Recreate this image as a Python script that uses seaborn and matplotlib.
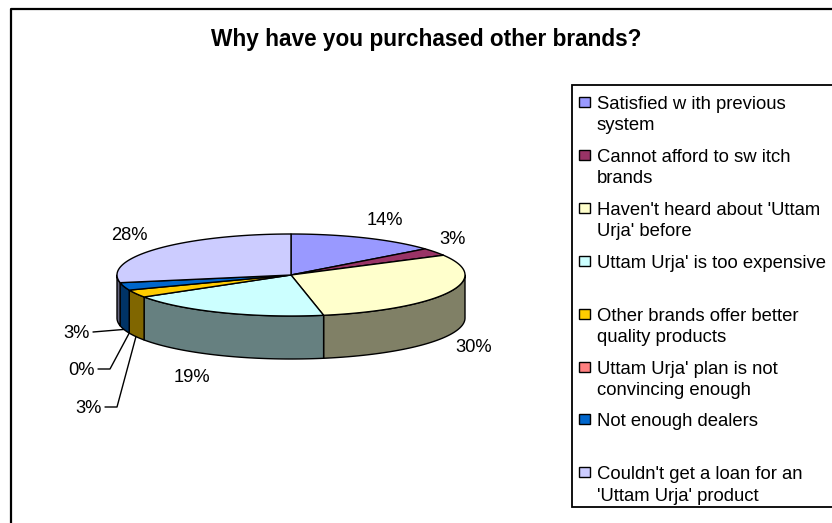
import numpy as np
import matplotlib
matplotlib.use("Agg")
import matplotlib.pyplot as plt
import seaborn as sns
from matplotlib.patches import Polygon, Rectangle
from matplotlib.colors import to_rgb

# ---------------- data ----------------
title = "Why have you purchased other brands?"
categories = [
    "Satisfied w ith previous\nsystem",
    "Cannot afford to sw itch\nbrands",
    "Haven't heard about 'Uttam\nUrja' before",
    "Uttam Urja' is too expensive",
    "Other brands offer better\nquality products",
    "Uttam Urja' plan is not\nconvincing enough",
    "Not enough dealers",
    "Couldn't get a loan for an\n'Uttam Urja' product",
]
values = [14, 3, 30, 19, 3, 0, 3, 28]
pct_labels = ["14%", "3%", "30%", "19%", "3%", "0%", "3%", "28%"]
colors = ["#9999FF", "#993366", "#FFFFCC", "#CCFFFF",
          "#FFCC00", "#FF8080", "#0066CC", "#CCCCFF"]

# ---------------- layout ----------------
W, H = 832, 523
CX, CY = 291, 275          # centre of top face (pixels)
RX, RY = 174, 41           # ellipse radii
DEPTH = 43                 # pie thickness
FONT = ["Liberation Sans", "DejaVu Sans"]

# label text centres (x) and baselines (y) for the outside labels
label_xy = {0: (385, 225), 1: (453, 244), 2: (474, 352), 3: (192, 382), 7: (129, 240)}
# leader-line labels: index -> (text right x, baseline y, elbow points)
leader = {
    6: (90, 338, [(93, 332)]),
    5: (95, 375, [(98, 369), (110, 369)]),
    4: (102, 413, [(105, 407), (117, 407)]),
}

sns.set_theme(style="white")
plt.rcParams["font.family"] = FONT

fig = plt.figure(figsize=(W / 100, H / 100), dpi=100)
ax = fig.add_axes([0, 0, 1, 1])
ax.set_xlim(0, W)
ax.set_ylim(H, 0)
ax.axis("off")

# chart frame (right and bottom edges lie outside the picture)
ax.plot([11, 11, W + 5], [H + 5, 9, 9], color="black", lw=1.6, solid_capstyle="butt")

ax.text(426, 46, title, ha="center", va="baseline", fontsize=16.3,
        fontweight="bold", color="black")

vals = np.asarray(values, dtype=float)
frac = vals / vals.sum()
ends = 90 - 360 * np.cumsum(frac)
starts = np.concatenate([[90], ends[:-1]])


def pt(t_deg, dy=0.0):
    t = np.radians(t_deg)
    return CX + RX * np.cos(t), CY - RY * np.sin(t) + dy


def darker(c, f=0.5):
    r, g, b = to_rgb(c)
    return (r * f, g * f, b * f)


# side walls (front half only: angles between -180 and 0)
for a1, a2, c in zip(starts, ends, colors):
    lo, hi = max(a2, -180), min(a1, 0)
    if hi - lo <= 0.01:
        continue
    ts = np.linspace(hi, lo, 60)
    top = [pt(t) for t in ts]
    bot = [pt(t, DEPTH) for t in ts[::-1]]
    ax.add_patch(Polygon(top + bot, closed=True, facecolor=darker(c),
                         edgecolor="black", lw=1.0, joinstyle="round", zorder=2))

# top faces
for a1, a2, c in zip(starts, ends, colors):
    if a1 - a2 <= 0.01:
        continue
    ts = np.linspace(a1, a2, max(int((a1 - a2) * 1.5), 4))
    poly = [(CX, CY)] + [pt(t) for t in ts]
    ax.add_patch(Polygon(poly, closed=True, facecolor=c, edgecolor="black",
                         lw=1.0, joinstyle="round", zorder=3))

# percentage labels
for i, (x, y) in label_xy.items():
    ax.text(x, y, pct_labels[i], ha="center", va="baseline", fontsize=13.2, color="black")

for i, (tx, ty, elbow) in leader.items():
    ax.text(tx, ty, pct_labels[i], ha="right", va="baseline", fontsize=13.2, color="black")
    mid = (starts[i] + ends[i]) / 2
    px, py = pt(mid, DEPTH)
    xs = [p[0] for p in elbow] + [px]
    ys = [p[1] for p in elbow] + [py]
    ax.plot(xs, ys, color="black", lw=1.0, zorder=4)

# legend
ax.add_patch(Rectangle((572, 85), 300, 422, facecolor="white", edgecolor="black",
                       lw=1.3, zorder=1))
for i, (cat, c) in enumerate(zip(categories, colors)):
    y0 = 102 + i * 52.9
    ax.add_patch(Rectangle((579, y0 - 5), 11, 10, facecolor=c, edgecolor="black",
                           lw=1.0, zorder=5))
    for j, line in enumerate(cat.split("\n")):
        ax.text(597, y0 + 7 + j * 21.5, line, ha="left", va="baseline",
                fontsize=13.3, color="black", zorder=5)

fig.savefig("out.png", dpi=100, facecolor="white")
